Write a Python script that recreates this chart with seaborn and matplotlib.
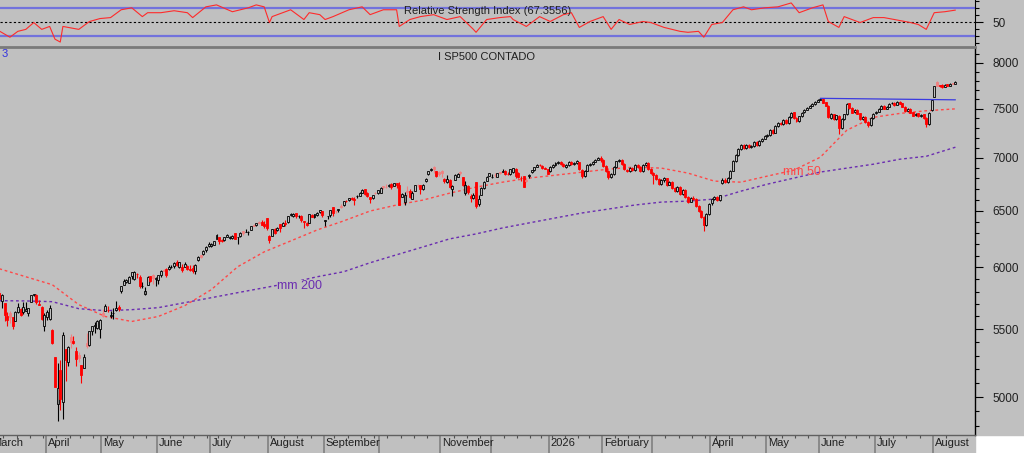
import matplotlib
matplotlib.use('Agg')
import matplotlib.pyplot as plt
import matplotlib.transforms as mtransforms
from matplotlib.patches import Rectangle
from matplotlib.ticker import FixedLocator, FixedFormatter, NullFormatter
import numpy as np
import pandas as pd
import seaborn as sns

# trading calendar
first_day, last_day = '2025-03-06', '2026-08-13'
holidays = ['2025-04-18', '2025-05-26', '2025-06-19', '2025-07-04', '2025-09-01',
            '2025-11-27', '2025-12-25', '2026-01-01', '2026-01-19', '2026-02-16',
            '2026-04-03', '2026-05-25', '2026-06-19', '2026-07-03']

# daily candles, one line per month
opens = [
    5785, 5726, 5705, 5604, 5624, 5594, 5563, 5635, 5661, 5632, 5647, 5630, 5718, 5771, 5771, 5696, 5679, 5527,
    5597, 5580, 5492, 5292, 4953, 5193, 4966, 5353, 5255, 5441, 5411, 5335, 5306, 5232, 5208, 5395, 5381, 5489, 5529, 5508, 5499,
    5625, 5646, 5655, 5606, 5626, 5655, 5675, 5808, 5854, 5879, 5870, 5929, 5902, 5945, 5923, 5842, 5782, 5854, 5926, 5939, 5903,
    5896, 5939, 5978, 5985, 5987, 6005, 6010, 6050, 6000, 6000, 6005, 6012, 5987, 5999, 5970, 6062, 6108, 6112, 6150, 6188,
    6187, 6193, 6248, 6259, 6240, 6238, 6266, 6255, 6254, 6295, 6261, 6272, 6312, 6305, 6307, 6327, 6369, 6370, 6398, 6394, 6381, 6428,
    6273, 6271, 6331, 6326, 6375, 6358, 6390, 6397, 6460, 6454, 6478, 6446, 6448, 6404, 6387, 6390, 6458, 6440, 6461, 6489, 6494,
    6401, 6446, 6458, 6532, 6498, 6505, 6542, 6551, 6588, 6596, 6620, 6609, 6632, 6639, 6662, 6696, 6667, 6623, 6614, 6664, 6664,
    6665, 6731, 6722, 6725, 6751, 6729, 6754, 6739, 6625, 6577, 6680, 6686, 6611, 6677, 6737, 6735, 6704, 6775, 6839, 6883, 6910, 6870, 6862,
    6875, 6798, 6767, 6790, 6700, 6787, 6812, 6866, 6818, 6666, 6728, 6637, 6617, 6764, 6557, 6640, 6711, 6776, 6823,
    6813, 6830, 6815, 6866, 6866, 6872, 6846, 6841, 6860, 6896, 6856, 6808, 6823, 6787, 6820, 6865, 6880, 6911, 6935, 6925, 6905, 6890,
    6870, 6912, 6928, 6948, 6962, 6945, 6915, 6932, 6962, 6938, 6952, 6955, 6880, 6825, 6875, 6935, 6942, 6962, 6982, 7002,
    6978, 6925, 6872, 6812, 6845, 6912, 6968, 6978, 6942, 6885, 6872, 6902, 6882, 6932, 6912, 6872, 6932, 6952, 6892,
    6852, 6832, 6796, 6748, 6788, 6802, 6742, 6768, 6712, 6682, 6722, 6652, 6692, 6627, 6582, 6618, 6604, 6542, 6497, 6442, 6372, 6472,
    6565, 6608, 6627, 6600, 6760, 6790, 6768, 6802, 6875, 6968, 7030, 7090, 7128, 7098, 7128, 7108, 7120, 7158, 7130, 7168, 7190,
    7218, 7230, 7280, 7250, 7322, 7352, 7342, 7382, 7352, 7413, 7462, 7402, 7372, 7422, 7462, 7492, 7512, 7532, 7552, 7578,
    7598, 7608, 7568, 7530, 7405, 7445, 7395, 7430, 7300, 7395, 7448, 7558, 7512, 7462, 7492, 7452, 7393, 7413, 7362, 7332, 7402,
    7452, 7472, 7502, 7535, 7502, 7524, 7557, 7567, 7545, 7577, 7557, 7524, 7482, 7502, 7462, 7432, 7452, 7422, 7442, 7402, 7342, 7490,
    7630, 7790, 7752, 7760, 7738, 7765, 7748, 7772, 7772,
]
highs = [
    5812, 5783, 5705, 5636, 5642, 5598, 5646, 5704, 5669, 5716, 5712, 5670, 5775, 5783, 5784, 5733, 5685, 5627,
    5651, 5695, 5500, 5292, 5246, 5267, 5481, 5353, 5369, 5460, 5450, 5367, 5328, 5232, 5310, 5469, 5489, 5528, 5554, 5571, 5581,
    5659, 5700, 5683, 5643, 5667, 5720, 5691, 5845, 5906, 5906, 5925, 5959, 5968, 5954, 5938, 5879, 5839, 5925, 5930, 5944, 5922,
    5937, 5981, 5991, 5999, 6017, 6022, 6044, 6060, 6046, 6027, 6050, 6024, 6018, 6018, 6028, 6101, 6109, 6146, 6187, 6215,
    6210, 6228, 6285, 6263, 6243, 6265, 6291, 6270, 6276, 6302, 6267, 6304, 6316, 6336, 6316, 6360, 6381, 6390, 6402, 6410, 6409, 6428,
    6283, 6331, 6346, 6352, 6380, 6395, 6410, 6446, 6481, 6474, 6481, 6457, 6456, 6404, 6394, 6467, 6466, 6467, 6486, 6508, 6495,
    6417, 6455, 6503, 6533, 6506, 6514, 6556, 6592, 6601, 6616, 6627, 6625, 6642, 6671, 6697, 6699, 6668, 6627, 6648, 6674, 6693,
    6719, 6733, 6750, 6748, 6755, 6754, 6758, 6764, 6665, 6671, 6725, 6702, 6680, 6740, 6744, 6741, 6750, 6808, 6876, 6901, 6920, 6870, 6872,
    6878, 6803, 6837, 6796, 6734, 6842, 6848, 6870, 6818, 6775, 6736, 6653, 6667, 6770, 6648, 6715, 6777, 6828, 6850,
    6843, 6851, 6857, 6866, 6895, 6880, 6864, 6894, 6904, 6903, 6860, 6825, 6825, 6807, 6842, 6880, 6910, 6937, 6945, 6929, 6912, 6895,
    6920, 6942, 6958, 6972, 6970, 6950, 6938, 6968, 6970, 6958, 6975, 6960, 6895, 6880, 6938, 6950, 6968, 6990, 7010, 7015,
    6985, 6935, 6880, 6850, 6918, 6972, 6988, 6985, 6948, 6895, 6910, 6910, 6938, 6940, 6918, 6938, 6960, 6960, 6900,
    6862, 6840, 6805, 6795, 6812, 6808, 6775, 6775, 6720, 6728, 6728, 6698, 6698, 6635, 6622, 6630, 6612, 6550, 6505, 6450, 6480, 6570,
    6620, 6638, 6632, 6648, 6800, 6800, 6812, 6880, 6975, 7035, 7095, 7135, 7138, 7135, 7138, 7125, 7165, 7165, 7175, 7196, 7225,
    7235, 7288, 7290, 7328, 7360, 7362, 7390, 7392, 7420, 7470, 7470, 7410, 7430, 7470, 7500, 7518, 7538, 7558, 7584, 7605,
    7615, 7615, 7575, 7540, 7452, 7450, 7440, 7438, 7400, 7450, 7565, 7565, 7520, 7498, 7500, 7460, 7420, 7420, 7370, 7410, 7458,
    7478, 7508, 7540, 7540, 7530, 7562, 7572, 7575, 7582, 7585, 7562, 7530, 7508, 7508, 7468, 7458, 7458, 7448, 7450, 7410, 7468, 7605,
    7745, 7800, 7760, 7768, 7765, 7772, 7778, 7780, 7800,
]
lows = [
    5711, 5667, 5565, 5529, 5546, 5505, 5563, 5628, 5602, 5622, 5646, 5603, 5718, 5760, 5696, 5694, 5573, 5489,
    5574, 5571, 5390, 5069, 4835, 4910, 4849, 5115, 5221, 5359, 5386, 5220, 5255, 5101, 5208, 5357, 5372, 5456, 5468, 5505, 5433,
    5597, 5644, 5634, 5590, 5578, 5644, 5644, 5786, 5854, 5868, 5867, 5901, 5895, 5911, 5830, 5829, 5768, 5854, 5880, 5866, 5843,
    5862, 5922, 5967, 5921, 5979, 5994, 5997, 6014, 5995, 5963, 6005, 5976, 5972, 5953, 5943, 6059, 6079, 6106, 6132, 6177,
    6178, 6189, 6241, 6201, 6215, 6225, 6261, 6241, 6243, 6243, 6203, 6264, 6284, 6303, 6282, 6322, 6360, 6362, 6378, 6365, 6346, 6327,
    6212, 6270, 6285, 6315, 6310, 6358, 6362, 6385, 6446, 6441, 6435, 6436, 6400, 6343, 6360, 6388, 6438, 6435, 6453, 6474, 6445,
    6361, 6420, 6445, 6454, 6478, 6486, 6522, 6544, 6575, 6592, 6600, 6552, 6614, 6631, 6661, 6646, 6626, 6571, 6609, 6650, 6651,
    6661, 6702, 6706, 6722, 6697, 6726, 6712, 6550, 6624, 6553, 6635, 6616, 6604, 6677, 6719, 6655, 6692, 6768, 6830, 6873, 6856, 6812, 6826,
    6815, 6761, 6760, 6708, 6631, 6787, 6812, 6830, 6728, 6646, 6651, 6583, 6604, 6521, 6540, 6640, 6700, 6776, 6820,
    6800, 6810, 6810, 6839, 6858, 6836, 6833, 6834, 6851, 6801, 6805, 6775, 6718, 6764, 6809, 6855, 6875, 6908, 6918, 6893, 6890, 6842,
    6858, 6900, 6918, 6940, 6930, 6908, 6905, 6925, 6930, 6928, 6940, 6880, 6805, 6815, 6868, 6925, 6935, 6955, 6975, 6962,
    6910, 6860, 6795, 6800, 6838, 6905, 6960, 6932, 6880, 6858, 6865, 6870, 6875, 6900, 6860, 6865, 6925, 6880, 6840,
    6750, 6785, 6735, 6738, 6770, 6730, 6735, 6700, 6668, 6672, 6640, 6645, 6615, 6570, 6575, 6595, 6530, 6485, 6430, 6316, 6360, 6462,
    6555, 6595, 6585, 6590, 6750, 6755, 6760, 6795, 6868, 6960, 7022, 7082, 7085, 7090, 7098, 7100, 7112, 7118, 7120, 7160, 7185,
    7208, 7222, 7240, 7245, 7315, 7330, 7335, 7340, 7345, 7405, 7390, 7360, 7365, 7415, 7455, 7485, 7505, 7525, 7545, 7570,
    7590, 7558, 7525, 7400, 7395, 7380, 7385, 7237, 7290, 7385, 7440, 7500, 7452, 7455, 7442, 7380, 7385, 7350, 7315, 7325, 7395,
    7445, 7465, 7495, 7495, 7495, 7518, 7550, 7535, 7540, 7548, 7515, 7470, 7475, 7452, 7420, 7425, 7412, 7415, 7392, 7308, 7335, 7480,
    7625, 7740, 7735, 7728, 7732, 7740, 7742, 7762, 7768,
]
closes = [
    5739, 5770, 5615, 5572, 5599, 5522, 5639, 5675, 5615, 5675, 5663, 5668, 5768, 5777, 5712, 5693, 5581, 5612,
    5633, 5671, 5397, 5074, 5062, 4983, 5457, 5268, 5363, 5406, 5397, 5276, 5283, 5158, 5288, 5376, 5485, 5525, 5529, 5561, 5569,
    5604, 5687, 5650, 5607, 5631, 5664, 5660, 5844, 5887, 5893, 5917, 5958, 5964, 5941, 5845, 5842, 5803, 5922, 5889, 5912, 5912,
    5936, 5970, 5971, 5939, 6000, 6006, 6039, 6022, 6045, 5977, 6033, 5983, 5981, 5968, 6025, 6092, 6092, 6141, 6173, 6205,
    6198, 6227, 6279, 6230, 6226, 6263, 6281, 6260, 6269, 6244, 6264, 6297, 6297, 6306, 6310, 6359, 6363, 6389, 6390, 6371, 6363, 6339,
    6238, 6330, 6299, 6345, 6340, 6390, 6374, 6446, 6467, 6469, 6450, 6449, 6411, 6396, 6370, 6467, 6439, 6466, 6481, 6502, 6460,
    6416, 6448, 6502, 6482, 6495, 6513, 6532, 6588, 6584, 6615, 6607, 6600, 6632, 6664, 6694, 6657, 6638, 6605, 6644, 6661, 6689,
    6711, 6715, 6716, 6740, 6715, 6754, 6735, 6553, 6655, 6644, 6671, 6629, 6664, 6735, 6735, 6699, 6738, 6792, 6875, 6891, 6891, 6822, 6840,
    6852, 6772, 6796, 6720, 6729, 6832, 6847, 6851, 6738, 6734, 6672, 6617, 6642, 6539, 6603, 6705, 6766, 6813, 6849,
    6813, 6829, 6850, 6857, 6870, 6847, 6841, 6887, 6901, 6827, 6817, 6800, 6721, 6775, 6835, 6879, 6910, 6932, 6930, 6906, 6896, 6846,
    6910, 6930, 6950, 6960, 6940, 6920, 6930, 6960, 6940, 6950, 6965, 6890, 6820, 6870, 6930, 6940, 6960, 6980, 7000, 6975,
    6920, 6870, 6810, 6840, 6910, 6965, 6975, 6940, 6890, 6870, 6900, 6880, 6930, 6910, 6870, 6930, 6950, 6890, 6850,
    6830, 6794, 6746, 6785, 6800, 6740, 6765, 6710, 6680, 6720, 6650, 6690, 6625, 6580, 6615, 6606, 6540, 6495, 6440, 6370, 6470, 6560,
    6606, 6625, 6597, 6640, 6785, 6765, 6800, 6870, 6965, 7025, 7086, 7125, 7095, 7125, 7106, 7116, 7156, 7126, 7166, 7186, 7216,
    7226, 7278, 7247, 7319, 7350, 7339, 7380, 7350, 7411, 7460, 7400, 7370, 7420, 7460, 7490, 7510, 7530, 7550, 7575, 7596,
    7606, 7565, 7533, 7411, 7443, 7391, 7433, 7298, 7391, 7443, 7555, 7510, 7460, 7490, 7450, 7391, 7411, 7360, 7330, 7400, 7450,
    7470, 7500, 7533, 7500, 7522, 7555, 7565, 7543, 7575, 7555, 7522, 7480, 7500, 7460, 7430, 7450, 7420, 7440, 7400, 7339, 7460, 7596,
    7740, 7750, 7745, 7735, 7757, 7745, 7770, 7770, 7790,
]

# moving averages read every 10 sessions
mm_days = [0, 10, 20, 30, 40, 50, 60, 70, 80, 90, 100, 110, 120, 130, 140, 150, 160, 170, 180,
           190, 200, 210, 220, 230, 240, 250, 260, 270, 280, 290, 300, 310, 320, 330, 340, 350, 361]
mm50 = [5989, 5922, 5856, 5694, 5600, 5561, 5600, 5686, 5815, 6006, 6133, 6228, 6325, 6406, 6496, 6551, 6597, 6661, 6718,
        6765, 6804, 6832, 6861, 6890, 6910, 6900, 6852, 6775, 6765, 6823, 6880, 7007, 7278, 7411, 7452, 7480, 7500]
mm200 = [5726, 5724, 5718, 5662, 5646, 5654, 5670, 5710, 5750, 5791, 5831, 5872, 5922, 5964, 6040, 6108, 6176, 6246, 6290,
         6343, 6388, 6433, 6478, 6514, 6551, 6578, 6587, 6606, 6680, 6746, 6804, 6862, 6900, 6938, 6987, 7016, 7106]

# resistance line drawn on the chart
resist_days = [310, 361]
resist_vals = [7612, 7596]

# RSI (upper panel)
rsi_days = [0, 4, 7, 10, 13, 16, 19, 21, 23, 24, 30, 34, 38, 42, 46, 50, 54, 56, 61, 66, 71, 73, 78, 82, 88, 94, 97,
            100, 102, 103, 110, 115, 117, 121, 123, 126, 132, 137, 140, 145, 150, 151, 155, 159, 164, 169, 174, 179,
            180, 184, 189, 193, 194, 199, 204, 208, 213, 216, 219, 223, 228, 231, 234, 238, 243, 246, 251, 257, 260,
            264, 266, 269, 273, 277, 281, 284, 289, 294, 299, 302, 307, 311, 313, 317, 319, 325, 330, 334, 338, 344,
            347, 350, 353, 357, 361]
rsi_vals = [37.4, 28.6, 37.0, 39.8, 49.6, 39.8, 44.0, 25.8, 21.6, 44.0, 39.8, 51.0, 55.3, 56.7, 67.9, 70.7, 58.1, 63.7,
            63.7, 66.5, 63.7, 56.7, 72.1, 74.9, 65.1, 70.7, 74.9, 72.1, 49.6, 58.1, 67.9, 53.9, 63.7, 60.9, 53.9, 58.1,
            67.9, 72.1, 60.9, 67.9, 67.9, 44.0, 53.9, 58.1, 60.9, 53.9, 58.1, 39.8, 35.6, 53.9, 56.7, 58.1, 53.9, 44.0,
            58.1, 51.1, 60.9, 63.7, 42.6, 51.1, 58.1, 39.8, 53.9, 46.8, 51.1, 49.6, 42.6, 37.0, 35.6, 37.0, 28.6, 46.8,
            49.6, 67.9, 72.1, 67.9, 70.7, 72.1, 77.7, 63.7, 70.7, 74.9, 51.1, 42.6, 58.1, 49.6, 56.7, 56.7, 53.9, 49.6,
            46.8, 39.8, 63.7, 65.1, 67.4]
rsi_last = 67.3556

month_labels = ['March', 'April', 'May', 'June', 'July', 'August', 'September', '', 'November', '',
                '2026', 'February', '', 'April', 'May', 'June', 'July', 'August']
price_ticks = [5000, 5500, 6000, 6500, 7000, 7500, 8000]

bg = '#c0c0c0'
sns.set_style('ticks', {'axes.facecolor': bg})
plt.rcParams['font.family'] = ['Liberation Sans', 'DejaVu Sans']

days = pd.bdate_range(first_day, last_day)
days = days[~days.isin(pd.to_datetime(holidays))]
n = len(closes)
days = days[:n]

months = days.to_period('M')
weeks = days.to_period('W')
month_pos = [i for i in range(1, n) if months[i] != months[i - 1]]
pre = len(pd.bdate_range(days[0].replace(day=1), days[0])) - 1
month_pos = [-pre] + month_pos
week_pos = [i for i in range(1, n) if weeks[i] != weeks[i - 1]]

W, H = 1024, 453
fig = plt.figure(figsize=(W / 100, H / 100), dpi=100, facecolor='white')
fig.patches.append(Rectangle((0, 18 / H), 1, 1 - 18 / H, transform=fig.transFigure,
                             color=bg, zorder=-10))
fig.patches.append(Rectangle((0, 0), 975 / W, 18 / H, transform=fig.transFigure,
                             color=bg, zorder=-10))
ax_rsi = fig.add_axes([0, 408 / H, 975 / W, 45 / H])
ax = fig.add_axes([0, 18 / H, 975 / W, 388 / H])
xlim = (0.25, 368.4)

# ---- candles
o = np.array(opens, float)
c = np.array(closes, float)
h = np.array(highs, float)
l = np.array(lows, float)
x = np.arange(n)
prev = np.r_[o[0], c[:-1]]
up = c >= o
face = np.where(up, np.where(c >= prev, bg, '#808080'),
                np.where(c < prev, '#ff0000', '#f08080'))
edge = np.where(up, 'black', np.where(c < prev, '#ff0000', '#f08080'))
lo_b = np.minimum(o, c)
hi_b = np.maximum(o, c)

ax.set_yscale('log')
ax.vlines(x, np.minimum(l, lo_b), np.maximum(h, hi_b), colors=edge, lw=0.8, zorder=3)
ax.bar(x, np.maximum(hi_b - lo_b, 3), bottom=lo_b, width=0.75, color=face,
       edgecolor=edge, linewidth=0.6, zorder=4)

# moving averages and resistance
sns.lineplot(x=mm_days, y=mm50, ax=ax, color='#ff4848', lw=1, linestyle=(0, (2, 2)),
             errorbar=None, zorder=2)
sns.lineplot(x=mm_days, y=mm200, ax=ax, color='#6a2cb0', lw=1, linestyle=(0, (2, 2)),
             errorbar=None, zorder=2)
sns.lineplot(x=resist_days, y=resist_vals, ax=ax, color='#3a3ae0', lw=0.9,
             errorbar=None, zorder=5)
ax.text(296, 6866, 'mm 50', color='#ff4848', fontsize=9, ha='left', va='center')
ax.text(105, 5848, 'mm 200', color='#6a2cb0', fontsize=9, ha='left', va='center',
        bbox=dict(facecolor=bg, edgecolor='none', pad=0))

ax.set_xlabel('')
ax.set_ylabel('')
ax.set_facecolor(bg)
ax.yaxis.set_major_locator(FixedLocator(price_ticks))
ax.yaxis.set_major_formatter(FixedFormatter([str(t) for t in price_ticks]))
ax.yaxis.set_minor_locator(FixedLocator(list(range(4800, 8200, 100))))
ax.yaxis.set_minor_formatter(NullFormatter())
ax.tick_params(axis='y', which='both', left=False, labelleft=False, right=True,
               labelright=True, color='black', width=0.8)
ax.tick_params(axis='y', which='major', length=5.8, pad=7, labelsize=8.5, labelcolor='#202020')
ax.tick_params(axis='y', which='minor', length=2.9)

ax.set_xticks([p - 0.5 for p in month_pos])
ax.set_xticks([p - 0.5 for p in week_pos], minor=True)
ax.tick_params(axis='x', which='major', length=13, width=1.2, color='#808080',
               labelbottom=False, bottom=True)
ax.tick_params(axis='x', which='minor', length=2.2, width=0.8, color='#505050', bottom=True)
# set_xticks widens the view, so the limits go last
ax.set_xlim(*xlim)
ax.set_ylim(4740, 8182)

lab_tr = mtransforms.offset_copy(
    mtransforms.blended_transform_factory(ax.transData, ax.transAxes),
    fig=fig, x=2, y=-3, units='dots')
for p, lab in zip(month_pos, month_labels):
    ax.text(p - 0.5, 0, lab, transform=lab_tr, ha='left', va='top', fontsize=8,
            color='#202020', clip_on=False)

ax.spines['left'].set_visible(False)
ax.spines['top'].set_color('#7a7a7a')
ax.spines['top'].set_linewidth(2)
ax.spines['bottom'].set_color('#606060')
ax.spines['bottom'].set_linewidth(1)
ax.spines['right'].set_color('black')
ax.spines['right'].set_linewidth(1)

# ---- RSI panel
ax_rsi.set_facecolor(bg)
ax_rsi.axhline(70, color='#7272dc', lw=1.6, zorder=1)
ax_rsi.axhline(30, color='#7272dc', lw=1.6, zorder=1)
ax_rsi.axhline(50, color='black', lw=0.8, ls=(0, (2, 2)), zorder=1)
sns.lineplot(x=rsi_days, y=rsi_vals, ax=ax_rsi, color='#ff2a2a', lw=0.8,
             errorbar=None, zorder=3)
ax_rsi.set_xlabel('')
ax_rsi.set_ylabel('')
ax_rsi.set_xticks([])
ax_rsi.set_xlim(*xlim)
ax_rsi.set_ylim(17.4, 81.9)
ax_rsi.yaxis.set_major_locator(FixedLocator([50]))
ax_rsi.yaxis.set_major_formatter(FixedFormatter(['50']))
ax_rsi.yaxis.set_minor_locator(FixedLocator([20, 30, 40, 60, 70, 80]))
ax_rsi.yaxis.set_minor_formatter(NullFormatter())
ax_rsi.tick_params(axis='y', which='both', left=False, labelleft=False, right=True,
                   labelright=True, color='black', width=0.8)
ax_rsi.tick_params(axis='y', which='major', length=5.8, pad=7, labelsize=8.5,
                   labelcolor='#202020')
ax_rsi.tick_params(axis='y', which='minor', length=2.9)
for s in ['left', 'top', 'bottom']:
    ax_rsi.spines[s].set_visible(False)
ax_rsi.spines['right'].set_color('black')

fig.text(488 / W, 1 - 11 / H, f'Relative Strength Index ({rsi_last})', ha='center',
         va='center', fontsize=8, color='#202020')
fig.text(487 / W, 1 - 57 / H, 'I SP500 CONTADO', ha='center', va='center',
         fontsize=8, color='#202020')
fig.text(2 / W, 1 - 54 / H, '3', ha='left', va='center', fontsize=8, color='#3030e0')

fig.savefig('out.png', dpi=100, facecolor='white')
plt.close(fig)
